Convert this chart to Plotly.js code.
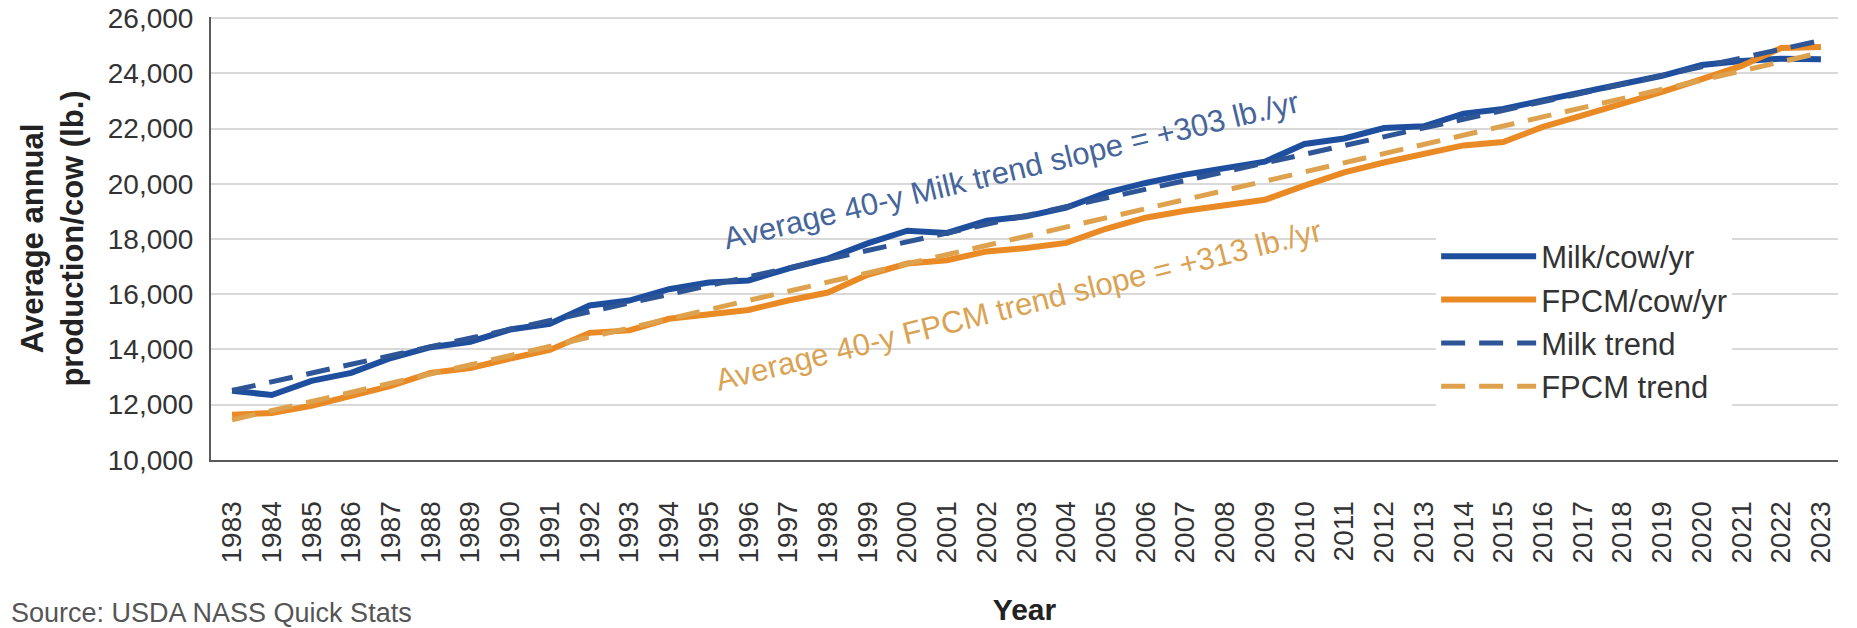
<!DOCTYPE html>
<html>
<head>
<meta charset="utf-8">
<script src="https://cdn.plot.ly/plotly-3.0.1.min.js"></script>
<style>
html,body{margin:0;padding:0;background:#ffffff;}
#chart{width:1857px;height:628px;}
</style>
</head>
<body>
<div id="chart"></div>
<script>
const years = [1983,1984,1985,1986,1987,1988,1989,1990,1991,1992,1993,1994,1995,1996,1997,1998,1999,2000,2001,2002,2003,2004,2005,2006,2007,2008,2009,2010,2011,2012,2013,2014,2015,2016,2017,2018,2019,2020,2021,2022,2023];
const yearLabels = years.map(String);
const milkPerCow = [12500,12350,12860,13150,13690,14080,14280,14720,14930,15590,15770,16180,16420,16500,16930,17290,17840,18300,18220,18660,18820,19140,19670,20030,20330,20580,20800,21440,21640,22020,22080,22540,22710,23020,23330,23590,23910,24300,24450,24530,24510];
const fpcmPerCow = [11630,11700,11960,12300,12680,13150,13330,13670,13980,14600,14690,15110,15290,15430,15770,16060,16700,17110,17230,17550,17670,17860,18370,18770,19020,19230,19420,19930,20410,20770,21080,21390,21510,22060,22480,22890,23330,23790,24270,24920,24950];
const trendYears = [1983, 2023];
const milkTrend = [12510, 25190];
const fpcmTrend = [11450, 24750];
const yTickVals = [10000,12000,14000,16000,18000,20000,22000,24000,26000];
const seriesNames = ['Milk/cow/yr','FPCM/cow/yr','Milk trend','FPCM trend'];
const milkNote = 'Average 40-y Milk trend slope = +303 lb./yr';
const fpcmNote = 'Average 40-y FPCM trend slope = +313 lb./yr';
const sourceNote = 'Source: USDA NASS Quick Stats';

const FONT = 'Liberation Sans, Arial, sans-serif';
const BLUE = '#1e4e9e';
const ORANGE = '#ea8a25';
const BLUE_D = '#2e5596';
const ORANGE_D = '#dea24e';

const traces = [
  {x: years, y: milkPerCow, name: seriesNames[0], type: 'scatter', mode: 'lines',
   line: {color: BLUE, width: 6}},
  {x: years, y: fpcmPerCow, name: seriesNames[1], type: 'scatter', mode: 'lines',
   line: {color: ORANGE, width: 6}},
  {x: trendYears, y: milkTrend, name: seriesNames[2], type: 'scatter', mode: 'lines',
   line: {color: BLUE_D, width: 5, dash: '24px,14px'}},
  {x: trendYears, y: fpcmTrend, name: seriesNames[3], type: 'scatter', mode: 'lines',
   line: {color: ORANGE_D, width: 5, dash: '24px,14px'}}
];

const layout = {
  width: 1857, height: 628,
  margin: {l: 211, r: 19, t: 17, b: 168},
  paper_bgcolor: '#ffffff', plot_bgcolor: '#ffffff',
  showlegend: true,
  font: {family: FONT, color: '#333333'},
  xaxis: {
    type: 'linear', range: [1982.47, 2023.43],
    tickmode: 'array', tickvals: years, ticktext: yearLabels, tickangle: -90,
    showgrid: false, zeroline: false, showline: true, linecolor: '#5a5a5a', linewidth: 2,
    ticks: '', ticklabelstandoff: 28,
    tickfont: {family: FONT, size: 28, color: '#333333'},
    title: {text: '<b>Year</b>', font: {family: FONT, size: 30, color: '#222222'}, standoff: 37}
  },
  yaxis: {
    range: [9995, 26040], tickmode: 'array', tickvals: yTickVals,
    tickformat: ',d', ticklabeloverflow: 'allow',
    showgrid: true, gridcolor: '#d9d9d9', gridwidth: 2,
    zeroline: false, showline: true, linecolor: '#5a5a5a', linewidth: 2,
    ticks: '', ticklabelstandoff: 10,
    tickfont: {family: FONT, size: 28, color: '#333333'},
    title: {text: '<b>Average annual<br>production/cow (lb.)</b>', font: {family: FONT, size: 31, color: '#222222'}, standoff: 15}
  },
  legend: {
    x: 0.753, xanchor: 'left', y: 0.52, yanchor: 'top',
    bgcolor: '#ffffff', borderwidth: 0,
    font: {family: FONT, size: 31, color: '#333333'},
    itemwidth: 95, tracegroupgap: 0, entrywidth: 220
  },
  annotations: [
    {text: milkNote, x: 2002.6, y: 20480, xref: 'x', yref: 'y', showarrow: false,
     textangle: -13.5, font: {family: FONT, size: 31, color: '#46659a'}},
    {text: fpcmNote, x: 2002.8, y: 15600, xref: 'x', yref: 'y', showarrow: false,
     textangle: -14, font: {family: FONT, size: 31, color: '#daa354'}},
    {text: sourceNote, xref: 'paper', yref: 'paper', x: -0.124, y: -0.307,
     xanchor: 'left', yanchor: 'top', showarrow: false,
     font: {family: FONT, size: 27, color: '#555555'}}
  ]
};

Plotly.newPlot('chart', traces, layout, {displayModeBar: false, staticPlot: true});
</script>
</body>
</html>
